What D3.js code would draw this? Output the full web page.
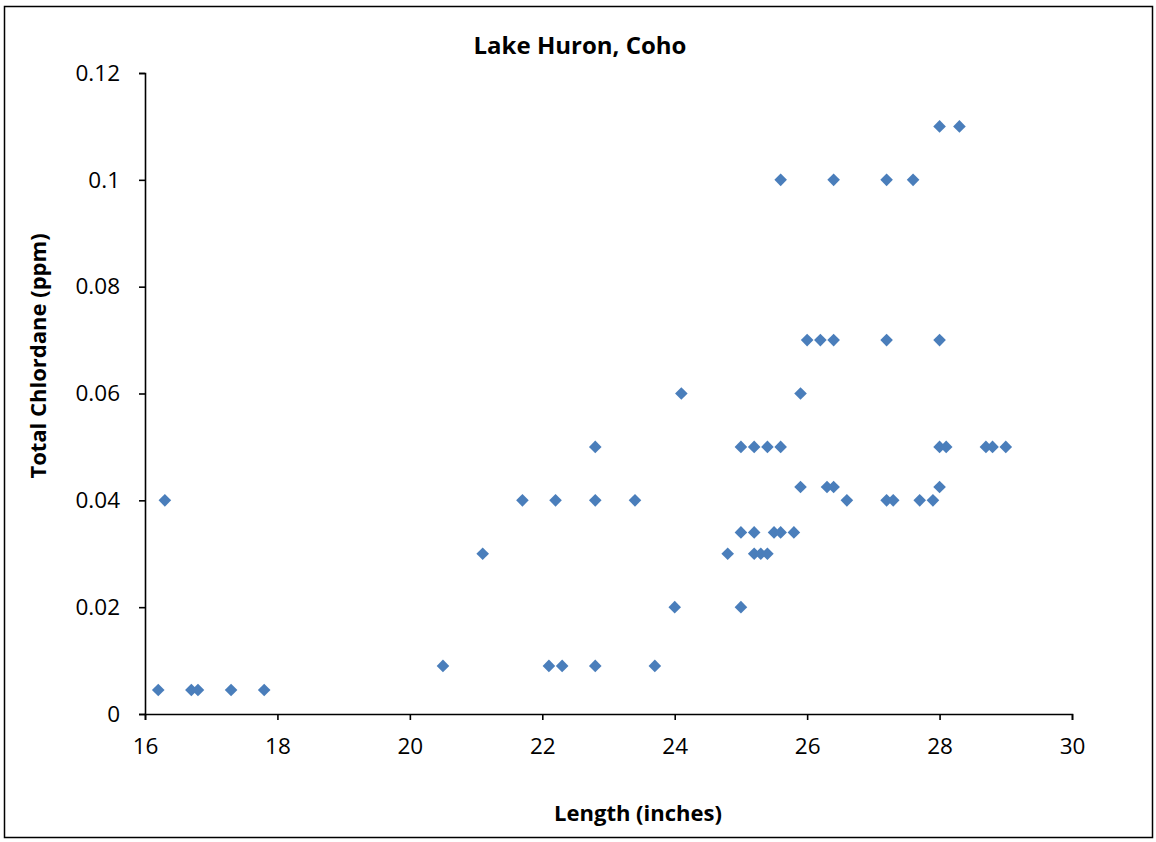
<!DOCTYPE html>
<html><head><meta charset="utf-8">
<script src="https://cdn.jsdelivr.net/npm/d3@7"></script>
<style>body{margin:0;background:#fff}svg{display:block}text{font-family:"Open Sans",sans-serif;fill:#000}</style>
</head><body>
<svg id="c" width="1156" height="842"></svg>
<script>
const title = "Lake Huron, Coho";
const xLabel = "Length (inches)";
const yLabel = "Total Chlordane (ppm)";
const xTicks = [16,18,20,22,24,26,28,30];
const yTicks = [0,0.02,0.04,0.06,0.08,0.1,0.12];
const lengths = [
 16.2,16.7,16.8,17.3,17.8,
 20.5,22.1,22.3,22.8,23.7,
 24.0,25.0,
 21.1,24.8,25.2,25.3,25.4,
 25.0,25.2,25.5,25.6,25.8,
 16.3,21.7,22.2,22.8,23.4,26.6,27.2,27.3,27.7,27.9,
 25.9,26.3,26.4,28.0,
 22.8,25.0,25.2,25.4,25.6,28.0,28.1,28.7,28.8,29.0,
 24.1,25.9,
 26.0,26.2,26.4,27.2,28.0,
 25.6,26.4,27.2,27.6,
 28.0,28.3
];
const chlordane = [
 0.0045,0.0045,0.0045,0.0045,0.0045,
 0.009,0.009,0.009,0.009,0.009,
 0.02,0.02,
 0.03,0.03,0.03,0.03,0.03,
 0.034,0.034,0.034,0.034,0.034,
 0.04,0.04,0.04,0.04,0.04,0.04,0.04,0.04,0.04,0.04,
 0.0425,0.0425,0.0425,0.0425,
 0.05,0.05,0.05,0.05,0.05,0.05,0.05,0.05,0.05,0.05,
 0.06,0.06,
 0.07,0.07,0.07,0.07,0.07,
 0.1,0.1,0.1,0.1,
 0.11,0.11
];

const svg = d3.select("#c");
svg.append("rect").attr("x",4.5).attr("y",6.5).attr("width",1148).attr("height",831)
  .attr("fill","#fff").attr("stroke","#000").attr("stroke-width",1.5);

const x = d3.scaleLinear().domain([16,30]).range([145,1072]);
const y = d3.scaleLinear().domain([0,0.12]).range([714,73]);

const xAxis = svg.append("g").attr("transform","translate(0,714)")
  .call(d3.axisBottom(x).tickValues(xTicks).tickFormat(d3.format("d")).tickSizeOuter(0).tickSize(6).tickPadding(18));
const yAxis = svg.append("g").attr("transform","translate(145,0)")
  .call(d3.axisLeft(y).tickValues(yTicks).tickFormat(d=>String(+d.toFixed(2))).tickSizeOuter(0).tickSize(6).tickPadding(19));
[xAxis,yAxis].forEach(a=>{
  a.selectAll("path,line").attr("stroke","#000").attr("stroke-width",1.6);
  a.selectAll("text").style("font-size","22.5px").style("font-family","Open Sans, sans-serif").attr("fill","#000");
});

svg.append("text").attr("x",580).attr("y",54).attr("text-anchor","middle")
  .style("font-size","24px").style("font-weight","bold").text(title);
svg.append("text").attr("x",638).attr("y",821).attr("text-anchor","middle")
  .style("font-size","22px").style("font-weight","bold").text(xLabel);
svg.append("text").attr("transform","translate(46,356) rotate(-90)").attr("text-anchor","middle")
  .style("font-size","22px").style("font-weight","bold").text(yLabel);

const pts = lengths.map((v,i)=>({x:v,y:chlordane[i]}));
svg.append("g").selectAll("path").data(pts).join("path")
  .attr("transform",d=>`translate(${x(d.x)},${y(d.y)})`)
  .attr("d","M0,-6.3L6.3,0L0,6.3L-6.3,0Z")
  .attr("fill","#4a7ebb");
</script>
</body></html>
